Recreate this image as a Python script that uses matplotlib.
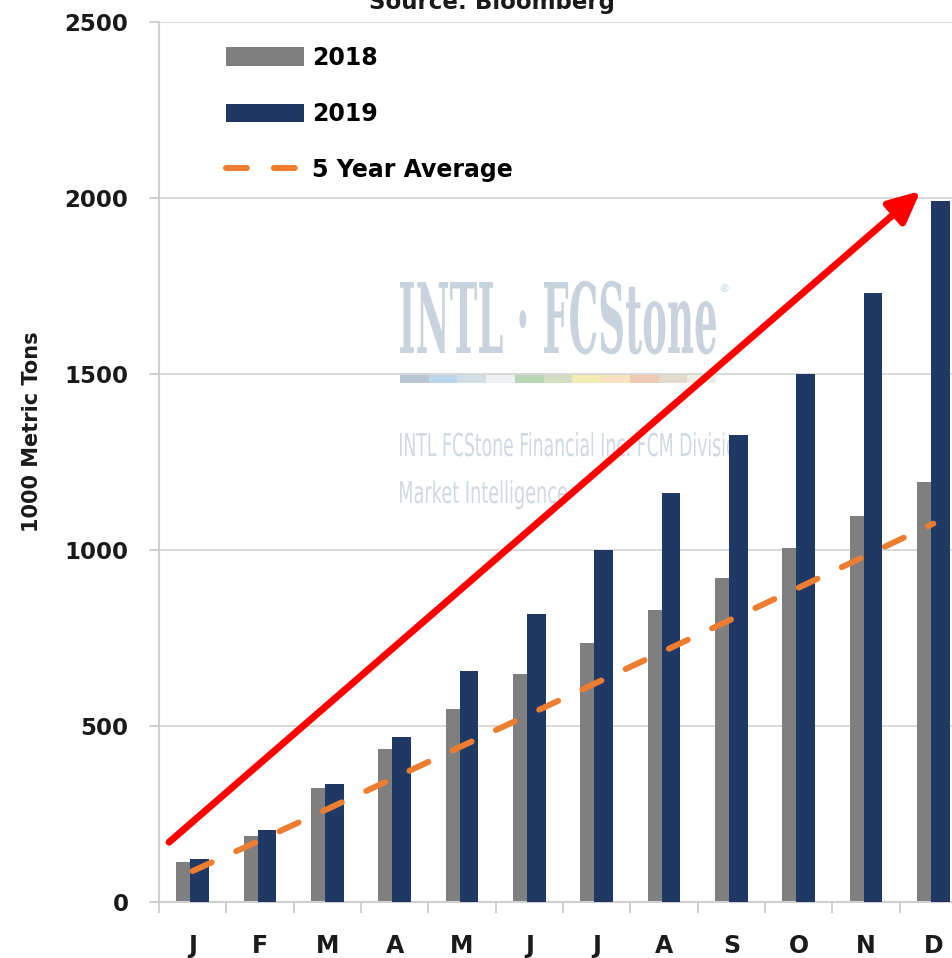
import numpy as np
import matplotlib
matplotlib.use("Agg")
import matplotlib.pyplot as plt
from matplotlib.patches import Patch, PathPatch, Rectangle
from matplotlib.lines import Line2D
from matplotlib.textpath import TextPath
from matplotlib.font_manager import FontProperties
from matplotlib.transforms import Affine2D

# monthly values, 1000 metric tons
months = ["J", "F", "M", "A", "M", "J", "J", "A", "S", "O", "N", "D"]
v2018 = [114, 187, 323, 434, 547, 648, 735, 829, 921, 1007, 1097, 1192]
v2019 = [123, 204, 334, 468, 657, 818, 1000, 1161, 1326, 1501, 1730, 1992]
avg5 = [88, 175, 264, 353, 443, 533, 623, 713, 803, 893, 984, 1075]
yticks = [0, 500, 1000, 1500, 2000, 2500]

# red trend arrow, in data units (month index, value)
arrow_start = (-0.35, 170)
arrow_end = (10.81, 2020)

GREY = "#7f7f7f"
NAVY = "#1f3864"
ORANGE = "#ed7d31"
LIGHT = "#d9d9d9"

W, H = 953, 958
plt.rcParams["font.family"] = ["DejaVu Sans"]
plt.rcParams["font.weight"] = "bold"

fig = plt.figure(figsize=(W / 100, H / 100), dpi=100)
ax = fig.add_axes([159 / W, (H - 902) / H, 808 / W, 880 / H])
ax.set_facecolor("white")

x = np.arange(len(months))
ax.bar(x - 0.105, v2018, width=0.28, color=GREY, zorder=2)
ax.bar(x + 0.105, v2019, width=0.28, color=NAVY, zorder=3)
ax.plot(x, avg5, color=ORANGE, lw=4.3, dashes=(3.5, 4.5),
        dash_capstyle="round", zorder=4)

ax.set_xlim(-0.5, 11.5)
ax.set_ylim(0, 2500)
ax.set_yticks(yticks)
ax.yaxis.grid(True, color=LIGHT, lw=1.4)
ax.set_axisbelow(True)
for s in ["top", "right"]:
    ax.spines[s].set_visible(False)
for s in ["left", "bottom"]:
    ax.spines[s].set_color("#cfcfcf")
    ax.spines[s].set_linewidth(1.5)

ax.set_xticks(x)
ax.set_xticklabels(months)
ax.set_xticks(np.arange(-0.5, 12, 1), minor=True)
ax.tick_params(axis="x", which="major", length=0, pad=23, labelsize=17,
               labelcolor="#1a1a1a")
ax.tick_params(axis="x", which="minor", length=8, width=1.4, color="#cfcfcf")
ax.tick_params(axis="y", length=7, width=1.4, color="#cfcfcf", pad=15,
               labelsize=16.5, labelcolor="#1a1a1a")

fig.text(32 / W, 1 - 432 / H, "1000 Metric Tons", rotation=90,
         ha="center", va="center", fontsize=15, weight="bold", color="#1a1a1a")
fig.text(492 / W, 1 - 9 / H, "Source: Bloomberg", ha="center",
         va="baseline", fontsize=16.5, weight="bold", color="#1a1a1a")

handles = [
    Patch(facecolor=GREY),
    Patch(facecolor=NAVY),
    Line2D([], [], color=ORANGE, lw=4.3, dashes=(3.5, 4.5),
           dash_capstyle="round"),
]
ax.legend(handles, ["2018", "2019", "5 Year Average"], loc="upper left",
          bbox_to_anchor=(226 / W, 1 - 46 / H), bbox_transform=fig.transFigure,
          frameon=False, fontsize=17, handlelength=3.3, handleheight=0.85,
          labelspacing=1.36, handletextpad=0.35, borderpad=0, borderaxespad=0)


# watermark, squeezed to fit a box given in pixels
def fit_text(s, fam, wt, left, right, base, cap, color):
    fp = FontProperties(family=fam, weight=wt)
    tp = TextPath((0, 0), s, size=100, prop=fp)
    ext = tp.get_extents()
    capu = TextPath((0, 0), "H", size=100, prop=fp).get_extents().y1
    sx = (right - left) / ext.width
    sy = cap / capu
    tr = (Affine2D().translate(-ext.x0, 0).scale(sx / W, sy / H)
          .translate(left / W, 1 - base / H) + fig.transFigure)
    ax.add_patch(PathPatch(tp, transform=tr, fc=color, ec="none",
                           zorder=0.3, clip_on=False))


fit_text("INTL \u00b7 FCStone", "DejaVu Serif", "bold", 400, 716, 353, 71,
         "#c8d3dd")
ax.text(719 / W, 1 - 292 / H, "\u00ae", transform=fig.transFigure,
        fontsize=8, weight="normal", color="#c8d3dd", zorder=0.3)
stripe_colors = ["#b9c6d2", "#bcd6ec", "#d3dde5", "#eef1f3", "#b9d4b3",
                 "#d2ddc4", "#f1ebb4", "#f7e2c2", "#edcab2", "#e1dace", "#efefe2"]
sw = 316 / len(stripe_colors)
for i, c in enumerate(stripe_colors):
    ax.add_patch(Rectangle(((400 + i * sw) / W, 1 - 383 / H), sw / W, 10 / H,
                           transform=fig.transFigure, fc=c, ec="none",
                           zorder=0.3, clip_on=False))
fit_text("INTL FCStone Financial Inc. FCM Division", "DejaVu Sans", "normal",
         400, 746, 456, 23, "#d0d9e1")
fit_text("Market Intelligence", "DejaVu Sans", "normal",
         400, 567, 503, 22, "#d0d9e1")

ax.annotate("", xy=arrow_end, xytext=arrow_start,
            arrowprops=dict(arrowstyle="-|>,head_length=19,head_width=9",
                            mutation_scale=1, color="#ff0000", lw=5,
                            shrinkA=0, shrinkB=0),
            zorder=10, annotation_clip=False)

fig.savefig("out.png", dpi=100)
